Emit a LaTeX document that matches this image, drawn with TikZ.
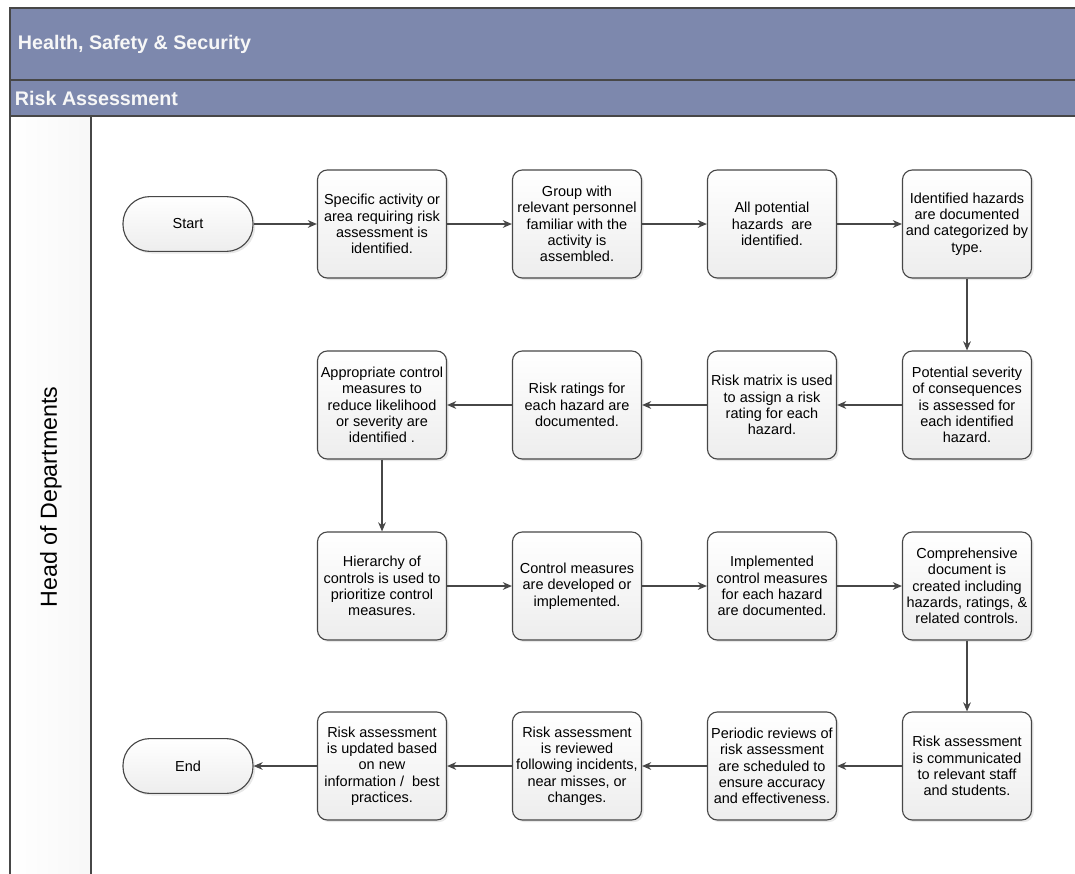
\documentclass[tikz,border=0pt]{standalone}
\usepackage{fontspec}
\setmainfont{Liberation Sans}
\usetikzlibrary{arrows.meta,shadows}

\definecolor{hdrfill}{HTML}{7D88AD}
\definecolor{edgegray}{HTML}{474747}
\definecolor{hdrtext}{HTML}{F7F7F7}

\tikzset{
    stepbox/.style={draw=edgegray, line width=0.8pt, rounded corners=7pt,
        top color=white, bottom color=black!7,
        drop shadow={opacity=0.18, shadow xshift=1.5pt, shadow yshift=-1.5pt},
        minimum width=3.225cm, minimum height=2.7cm, inner sep=1pt,
        align=center, font=\fontsize{10.3}{11.6}\selectfont},
    termbox/.style={stepbox, rounded corners=0.67cm,
        minimum width=3.25cm, minimum height=1.37cm},
    flow/.style={draw=edgegray, line width=0.8pt, -{Stealth[length=6.5pt,width=5.5pt]}},
}

\begin{document}
\begin{tikzpicture}[x=0.025cm, y=-0.025cm]
        \clip (0,0) rectangle (1075,873);
        %draw the pool and the lane
        \fill[white] (0,0) rectangle (1075,873);
        \draw[edgegray, line width=0.9pt, fill=hdrfill] (10,8) rectangle (1090,80);
        \draw[edgegray, line width=0.9pt, fill=hdrfill] (10,80) rectangle (1090,116);
        \draw[edgegray, line width=0.9pt, left color=white, right color=black!3] (10,116) rectangle (91,890);
        \draw[edgegray, line width=0.9pt] (91,116) rectangle (1090,890);

        \node[anchor=west, text=hdrtext, font=\fontsize{14}{16}\selectfont\bfseries] (pool) at (13,44) {Health, Safety \& Security};
        \node[anchor=west, text=hdrtext, font=\fontsize{14}{16}\selectfont\bfseries] (phase) at (10,98) {Risk Assessment};
        \node[rotate=90, font=\fontsize{16.5}{18}\selectfont] (lane) at (51,497) {Head of Departments};

        %first row
        \node[termbox] (start) at (188,224) {Start};
        \node[stepbox] (s1) at (382,224) {Specific activity or\\area requiring risk\\assessment is\\identified.};
        \node[stepbox] (s2) at (577,224) {Group with\\relevant personnel\\familiar with the\\activity is\\assembled.};
        \node[stepbox] (s3) at (772,224) {All potential\\hazards\ \ are\\identified.};
        \node[stepbox] (s4) at (967,224) {Identified hazards\\are documented\\and categorized by\\type.};

        %second row
        \node[stepbox] (s5) at (967,405) {Potential severity\\of consequences\\is assessed for\\each identified\\hazard.};
        \node[stepbox] (s6) at (772,405) {Risk matrix is used\\to assign a risk\\rating for each\\hazard.};
        \node[stepbox] (s7) at (577,405) {Risk ratings for\\each hazard are\\documented.};
        \node[stepbox] (s8) at (382,405) {Appropriate control\\measures to\\reduce likelihood\\or severity are\\identified .};

        %third row
        \node[stepbox] (s9) at (382,586) {Hierarchy of\\controls is used to\\prioritize control\\measures.};
        \node[stepbox] (s10) at (577,586) {Control measures\\are developed or\\implemented.};
        \node[stepbox] (s11) at (772,586) {Implemented\\control measures\\for each hazard\\are documented.};
        \node[stepbox] (s12) at (967,586) {Comprehensive\\document is\\created including\\hazards, ratings, \&\\related controls.};

        %fourth row
        \node[stepbox] (s13) at (967,766) {Risk assessment\\is communicated\\to relevant staff\\and students.};
        \node[stepbox] (s14) at (772,766) {Periodic reviews of\\risk assessment\\are scheduled to\\ensure accuracy\\and effectiveness.};
        \node[stepbox] (s15) at (577,766) {Risk assessment\\is reviewed\\following incidents,\\near misses, or\\changes.};
        \node[stepbox] (s16) at (382,766) {Risk assessment\\is updated based\\on new\\information /\ \ best\\practices.};
        \node[termbox] (stop) at (188,766) {End};

        %connect the steps
        \draw[flow] (start) -- (s1);
        \draw[flow] (s1) -- (s2);
        \draw[flow] (s2) -- (s3);
        \draw[flow] (s3) -- (s4);
        \draw[flow] (s4) -- (s5);
        \draw[flow] (s5) -- (s6);
        \draw[flow] (s6) -- (s7);
        \draw[flow] (s7) -- (s8);
        \draw[flow] (s8) -- (s9);
        \draw[flow] (s9) -- (s10);
        \draw[flow] (s10) -- (s11);
        \draw[flow] (s11) -- (s12);
        \draw[flow] (s12) -- (s13);
        \draw[flow] (s13) -- (s14);
        \draw[flow] (s14) -- (s15);
        \draw[flow] (s15) -- (s16);
        \draw[flow] (s16) -- (stop);
    \end{tikzpicture}
\end{document}
